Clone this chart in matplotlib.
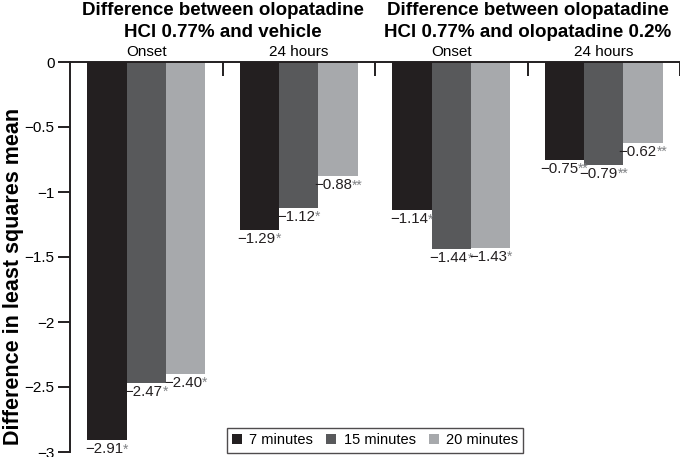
import numpy as np
import matplotlib
matplotlib.use("Agg")
import matplotlib.pyplot as plt
from matplotlib.offsetbox import TextArea, HPacker, AnnotationBbox
import matplotlib.transforms as mtransforms

plt.rcParams['font.family'] = ['Liberation Sans', 'DejaVu Sans']

# Datos
grupos = ['Onset', '24 hours', 'Onset', '24 hours']
series = ['7 minutes', '15 minutes', '20 minutes']
valores = {
    '7 minutes': [-2.91, -1.29, -1.14, -0.75],
    '15 minutes': [-2.47, -1.12, -1.44, -0.79],
    '20 minutes': [-2.40, -0.88, -1.43, -0.62],
}
estrellas = {
    '7 minutes': ['*', '*', '*', '**'],
    '15 minutes': ['*', '*', '*', '**'],
    '20 minutes': ['*', '**', '*', '**'],
}
titulos = [('Difference between olopatadine', 'HCl 0.77% and vehicle'),
           ('Difference between olopatadine', 'HCl 0.77% and olopatadine 0.2%')]
yticks = [0, -0.5, -1, -1.5, -2, -2.5, -3]
ytick_labels = ['0', '\u22120.5', '\u22121', '\u22121.5', '\u22122', '\u22122.5', '\u22123']

colores = ['#231f20', '#58595b', '#a7a9ac']

fig = plt.figure(figsize=(6.8, 4.57), dpi=100)
ax = fig.add_axes([70/680, 1 - 452/457, 610/680, (452 - 62)/457])

x = np.arange(len(grupos))
ancho = 0.258
for j, s in enumerate(series):
    pos = x + (j - 1) * ancho
    ax.bar(pos, valores[s], width=ancho, color=colores[j], label=s, zorder=2)
    for xi, v, st in zip(pos, valores[s], estrellas[s]):
        num = TextArea('\u2212%.2f' % abs(v), textprops=dict(fontsize=10.8, color='#231f20'))
        ast = TextArea(st, textprops=dict(fontsize=10, color='#808285'))
        caja = HPacker(children=[num, ast], align='baseline', pad=0, sep=0)
        ab = AnnotationBbox(caja, (xi, v), xybox=(0, -1.5), xycoords='data',
                            boxcoords='offset points', box_alignment=(0.5, 1),
                            frameon=False, annotation_clip=False)
        ax.add_artist(ab)

ax.set_xlim(-0.5, 3.5)
ax.set_ylim(-3, 0)
ax.set_yticks(yticks)
ax.set_yticklabels(ytick_labels, fontsize=11)
ax.tick_params(axis='y', direction='out', length=9, width=1.4, color='#231f20', pad=2)

ax.xaxis.tick_top()
ax.set_xticks([0.5, 1.5, 2.5, 3.5])
ax.set_xticklabels([])
ax.tick_params(axis='x', direction='in', length=10, width=1.4, color='#231f20')

for lado in ['bottom', 'right']:
    ax.spines[lado].set_visible(False)
for lado in ['top', 'left']:
    ax.spines[lado].set_linewidth(1.4)
    ax.spines[lado].set_color('#231f20')
    ax.spines[lado].set_zorder(3)

trans = mtransforms.blended_transform_factory(ax.transData, ax.transAxes)
for i, g in enumerate(grupos):
    ax.text(x[i], 0.0155 + 1, g, transform=trans, ha='center', va='baseline', fontsize=11)
for k, (l1, l2) in enumerate(titulos):
    ax.text(0.5 + 2 * k, 1.12, l1, transform=trans, ha='center', va='baseline',
            fontsize=13.5, fontweight='bold')
    ax.text(0.5 + 2 * k, 1.064, l2, transform=trans, ha='center', va='baseline',
            fontsize=13.5, fontweight='bold')

ax.set_ylabel('Difference in least squares mean', fontsize=15.5, fontweight='bold')
ax.yaxis.set_label_coords(-0.076, 0.45)

leg = ax.legend(loc='lower center', bbox_to_anchor=(0.5, -0.02), ncol=3, fontsize=10.5,
                frameon=True, fancybox=False, edgecolor='#231f20', handlelength=0.7,
                handleheight=0.7, handletextpad=0.5, columnspacing=0.9, borderpad=0.35)
leg.get_frame().set_linewidth(1)

fig.savefig('out.png', dpi=100)
